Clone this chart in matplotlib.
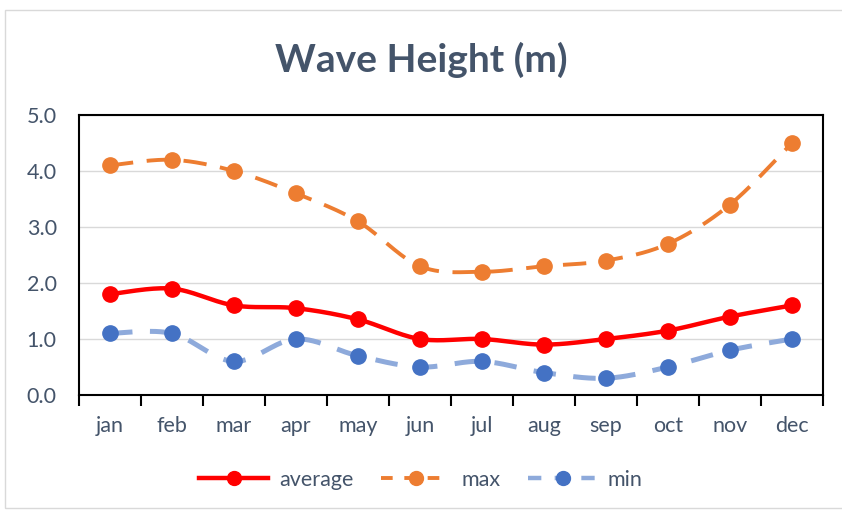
import numpy as np
import matplotlib
matplotlib.use("Agg")
import matplotlib.pyplot as plt
from matplotlib.patches import Rectangle
from matplotlib.lines import Line2D

months = ["jan", "feb", "mar", "apr", "may", "jun", "jul", "aug", "sep", "oct", "nov", "dec"]
average = [1.8, 1.9, 1.6, 1.55, 1.35, 1.0, 1.0, 0.9, 1.0, 1.15, 1.4, 1.6]
maximum = [4.1, 4.2, 4.0, 3.6, 3.1, 2.3, 2.2, 2.3, 2.4, 2.7, 3.4, 4.5]
minimum = [1.1, 1.1, 0.6, 1.0, 0.7, 0.5, 0.6, 0.4, 0.3, 0.5, 0.8, 1.0]

TEXT = "#44546A"
plt.rcParams['font.family'] = ['Lato', 'DejaVu Sans']


def smooth(xs, ys, n=30):
    # catmull-rom style smoothing like excel's "smoothed line"
    xs = np.asarray(xs, float); ys = np.asarray(ys, float)
    px = np.concatenate([[xs[0]], xs, [xs[-1]]])
    py = np.concatenate([[ys[0]], ys, [ys[-1]]])
    ox, oy = [], []
    for i in range(1, len(px) - 2):
        p0, p1, p2, p3 = (np.array([px[j], py[j]]) for j in (i - 1, i, i + 1, i + 2))
        c1 = p1 + (p2 - p0) / 6
        c2 = p2 - (p3 - p1) / 6
        t = np.linspace(0, 1, n)[:, None]
        pts = (1 - t) ** 3 * p1 + 3 * (1 - t) ** 2 * t * c1 + 3 * (1 - t) * t ** 2 * c2 + t ** 3 * p2
        ox.extend(pts[:, 0]); oy.extend(pts[:, 1])
    return ox, oy


fig = plt.figure(figsize=(8.42, 5.11), dpi=100)
fig.patches.append(Rectangle((5 / 842, 3 / 511), 1, 498 / 511, transform=fig.transFigure,
                             fill=False, edgecolor="#D9D9D9", linewidth=1))
ax = fig.add_axes([79 / 842, 1 - 395 / 511, (823 - 79) / 842, (395 - 115) / 511])

x = np.arange(len(months))
MAX_DASH = (0, (6, 3.5))
MIN_DASH = (0, (4.5, 3.5))

sx, sy = smooth(x, maximum)
ax.plot(sx, sy, color="#ED7D31", lw=2.8, linestyle=MAX_DASH, zorder=3)
ax.plot(x, maximum, 'o', color="#ED7D31", ms=11, zorder=4)

sx, sy = smooth(x, minimum)
ax.plot(sx, sy, color="#8EAADB", lw=3.6, linestyle=MIN_DASH, zorder=3)
ax.plot(x, minimum, 'o', color="#4472C4", ms=11, zorder=4)

sx, sy = smooth(x, average)
ax.plot(sx, sy, color="#FF0000", lw=3.2, zorder=5)
ax.plot(x, average, 'o', color="#FF0000", ms=11, zorder=6)

ax.set_xlim(-0.5, 11.5)
ax.set_ylim(0, 5)
ax.set_yticks(np.arange(0, 5.01, 1.0))
ax.set_yticklabels([f"{v:.1f}" for v in np.arange(0, 5.01, 1.0)])
ax.set_xticks(x)
ax.set_xticklabels(months)
ax.set_xticks(np.arange(-0.5, 12, 1), minor=True)
ax.tick_params(axis='x', which='major', length=0, pad=15, labelsize=15.5, labelcolor=TEXT)
ax.tick_params(axis='x', which='minor', length=8, width=1.5, direction='out', color='black')
ax.tick_params(axis='y', length=0, pad=16, labelsize=15.5, labelcolor=TEXT)
ax.grid(axis='y', color="#D9D9D9", lw=1)
ax.set_axisbelow(True)
for s in ax.spines.values():
    s.set_color('black')
    s.set_linewidth(1.5)

fig.text(0.5, 1 - 60 / 511, "Wave Height (m)", ha='center', va='center',
         fontsize=28, fontweight='bold', color=TEXT)

handles = [
    Line2D([], [], color="#FF0000", lw=3.2, marker='o', ms=10),
    Line2D([], [], color="#ED7D31", lw=2.8, linestyle=(0, (3, 3)), marker='o', ms=10),
    Line2D([], [], color="#8EAADB", lw=3.2, linestyle=(0, (3, 3)), marker='o', ms=10,
           markerfacecolor="#4472C4", markeredgecolor="#4472C4"),
]
fig.legend(handles, ["average", "max", "min"], loc='center', bbox_to_anchor=(0.5, 1 - 480 / 511),
           ncol=3, frameon=False, fontsize=15.5, labelcolor=TEXT, handlelength=3.2,
           handletextpad=0.5, columnspacing=1.3)

fig.savefig("out.png", dpi=100)
